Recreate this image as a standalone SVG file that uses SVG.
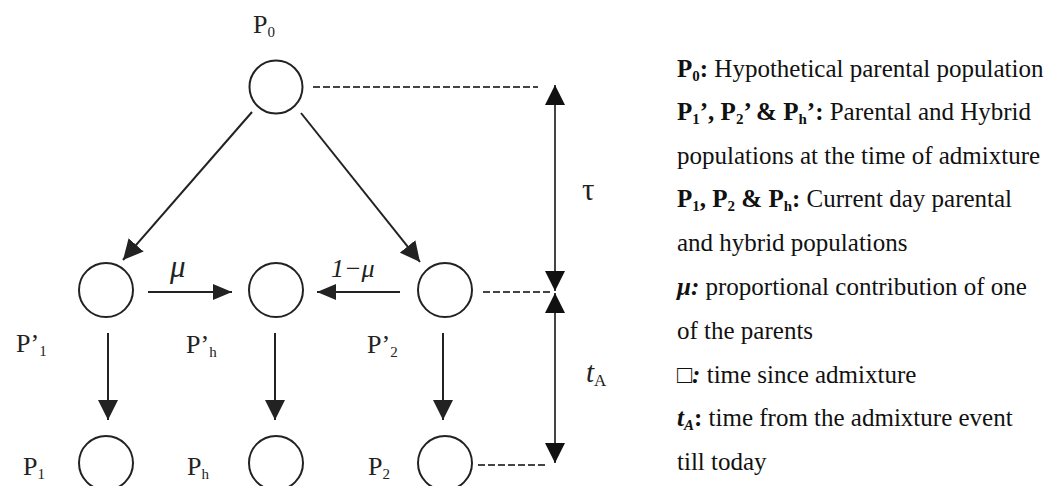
<svg xmlns="http://www.w3.org/2000/svg" width="1052" height="486" viewBox="0 0 1052 486">
<style>
  .node { fill: none; stroke: #222; stroke-width: 2; }
  .edge { fill: none; stroke: #222; stroke-width: 2; }
  .meas { fill: none; stroke: #444; stroke-width: 2; }
  .dash { fill: none; stroke: #444; stroke-width: 2; stroke-dasharray: 7 3; }
  .lbl { font-family: "Liberation Serif", "Times New Roman", serif; font-size: 26px; fill: #222; }
  .sub { font-size: 15px; }
  .leg { font-family: "Liberation Serif", "Times New Roman", serif; font-size: 25px; fill: #111; }
  .b { font-weight: bold; }
  .i { font-style: italic; }
  .lsub { font-size: 17px; }
  .greek { font-size: 31px; }
</style>
<defs>
  <marker id="ah" markerUnits="userSpaceOnUse" markerWidth="20" markerHeight="20" refX="20" refY="10" orient="auto-start-reverse">
    <path d="M0,0 L20,10 L0,20 z" fill="#222"/>
  </marker>
  <marker id="ahs" markerUnits="userSpaceOnUse" markerWidth="19" markerHeight="16" refX="19" refY="8" orient="auto">
    <path d="M0,0 L19,8 L0,16 z" fill="#222"/>
  </marker>
  <marker id="am" markerUnits="userSpaceOnUse" markerWidth="20" markerHeight="20" refX="20" refY="10" orient="auto-start-reverse">
    <path d="M0,0 L20,10 L0,20 z" fill="#111"/>
  </marker>
</defs>

<g id="connectors">
  <line class="edge" x1="252" y1="112" x2="123" y2="260" marker-end="url(#ah)"/>
  <line class="edge" x1="301" y1="113" x2="420" y2="262" marker-end="url(#ah)"/>
  <line class="edge" x1="148" y1="292" x2="232" y2="292" marker-end="url(#ahs)"/>
  <line class="edge" x1="400" y1="292" x2="317" y2="292" marker-end="url(#ahs)"/>
  <line class="edge" x1="108" y1="333" x2="108" y2="420" marker-end="url(#ah)"/>
  <line class="edge" x1="275" y1="333" x2="275" y2="420" marker-end="url(#ah)"/>
  <line class="edge" x1="443" y1="333" x2="443" y2="420" marker-end="url(#ah)"/>
  <line class="dash" x1="313" y1="87" x2="538" y2="87"/>
  <line class="dash" x1="483" y1="292" x2="550" y2="292"/>
  <line class="dash" x1="478" y1="465" x2="547" y2="465"/>
  <line class="meas" x1="555" y1="85" x2="555" y2="291" marker-start="url(#am)" marker-end="url(#am)"/>
  <line class="meas" x1="555" y1="293" x2="555" y2="463" marker-start="url(#am)" marker-end="url(#am)"/>
  <text class="lbl greek" x="582" y="200">τ</text>
  <text class="lbl" x="586" y="382"><tspan class="i" font-size="29">t</tspan><tspan class="lsub" dy="4">A</tspan></text>
  <text class="lbl i greek" x="170" y="277">μ</text>
  <text class="lbl i" x="331" y="277" font-size="29">1−μ</text>
</g>

<g id="P0">
  <circle class="node" cx="276" cy="87" r="26.5"/>
  <text class="lbl" x="253" y="33">P<tspan class="sub" dy="4">0</tspan></text>
</g>
<g id="P1prime">
  <circle class="node" cx="106" cy="290" r="27"/>
  <text class="lbl" x="16" y="352">P’<tspan class="sub" dy="4">1</tspan></text>
</g>
<g id="Phprime">
  <circle class="node" cx="276" cy="290" r="27"/>
  <text class="lbl" x="186" y="353">P’<tspan class="sub" dy="4">h</tspan></text>
</g>
<g id="P2prime">
  <circle class="node" cx="445" cy="290" r="27"/>
  <text class="lbl" x="367" y="353">P’<tspan class="sub" dy="4">2</tspan></text>
</g>
<g id="P1">
  <circle class="node" cx="106" cy="463" r="27"/>
  <text class="lbl" x="23" y="475">P<tspan class="sub" dy="4">1</tspan></text>
</g>
<g id="Ph">
  <circle class="node" cx="276" cy="463" r="27"/>
  <text class="lbl" x="187" y="475">P<tspan class="sub" dy="4">h</tspan></text>
</g>
<g id="P2">
  <circle class="node" cx="445" cy="463" r="27"/>
  <text class="lbl" x="368" y="475">P<tspan class="sub" dy="4">2</tspan></text>
</g>

<g id="legend" class="leg">
  <text x="677" y="77"><tspan class="b">P<tspan class="sub" dy="4">0</tspan><tspan dy="-4">:</tspan></tspan> Hypothetical parental population</text>
  <text x="677" y="120"><tspan class="b">P<tspan class="sub" dy="4">1</tspan><tspan dy="-4">’, P</tspan><tspan class="sub" dy="4">2</tspan><tspan dy="-4">’ &amp; P</tspan><tspan class="sub" dy="4">h</tspan><tspan dy="-4">’:</tspan></tspan> Parental and Hybrid</text>
  <text x="677" y="164">populations at the time of admixture</text>
  <text x="677" y="207"><tspan class="b">P<tspan class="sub" dy="4">1</tspan><tspan dy="-4">, P</tspan><tspan class="sub" dy="4">2</tspan><tspan dy="-4"> &amp; P</tspan><tspan class="sub" dy="4">h</tspan><tspan dy="-4">:</tspan></tspan> Current day parental</text>
  <text x="677" y="251">and hybrid populations</text>
  <text x="677" y="295"><tspan class="b i">μ:</tspan> proportional contribution of one</text>
  <text x="677" y="339">of the parents</text>
  <text x="677" y="383"><tspan class="b i">□:</tspan> time since admixture</text>
  <text x="677" y="426"><tspan class="b i">t</tspan><tspan class="b i sub" dy="4">A</tspan><tspan class="b" dy="-4">:</tspan> time from the admixture event</text>
  <text x="677" y="470">till today</text>
</g>
</svg>
